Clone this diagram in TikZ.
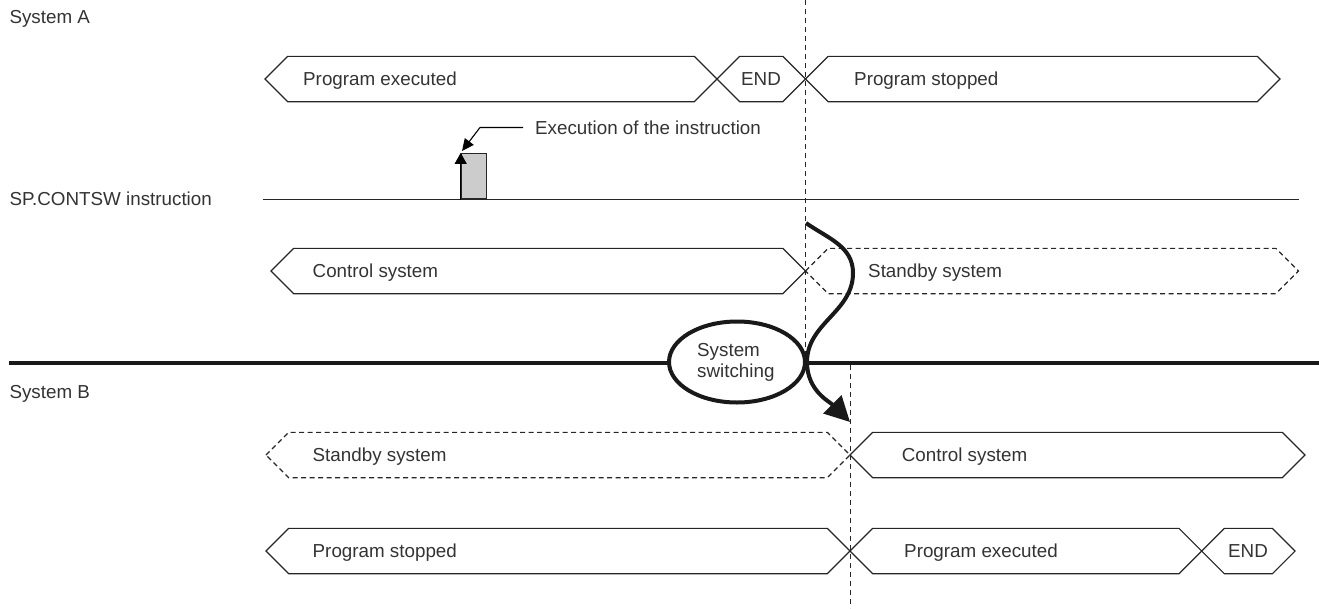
\documentclass[tikz,border=0pt]{standalone}
\usepackage{fontspec}
\setmainfont{Liberation Sans}
\usetikzlibrary{arrows.meta,shapes.geometric}

\begin{document}
\begin{tikzpicture}[x=1pt,y=-1pt,every node/.style={font=\fontsize{18.8}{20.6}\selectfont,text=black!80}]
  \tikzset{
    lbl/.style={anchor=west,inner sep=0pt,text height=13.5pt,text depth=0pt},
    runbox/.style={draw=black!85,line width=1.1pt,line join=miter},
    sbybox/.style={runbox,dash pattern=on 5pt off 3.5pt},
    guide/.style={draw=black!85,line width=0.9pt,dash pattern=on 5pt off 4pt},
    swarrow/.style={draw=black!90,line width=4pt,-{Triangle[length=25pt,width=25pt]}}
  }
  \useasboundingbox (0,0) rectangle (1319,608);

  % state boxes: left tip / right tip / row / style
  \foreach \xa/\xb/\yc/\ls in {265/717/79/runbox,717/805.5/79/runbox,805.5/1280/79/runbox,
      271/805.5/271/runbox,805.5/1298.5/271/sbybox,
      266/850/455/sbybox,850/1305/455/runbox,
      266/850/551/runbox,850/1201.7/551/runbox,1201.7/1295/551/runbox} {
    \draw[\ls] (\xa,\yc) -- (\xa+22.7,\yc-22.7) -- (\xb-22.7,\yc-22.7) -- (\xb,\yc)
      -- (\xb-22.7,\yc+22.7) -- (\xa+22.7,\yc+22.7) -- cycle;
  }

  \node[lbl] (sysa) at (9.3,17) {System A};
  \node[lbl] (spins) at (9.3,198.5) {SP.CONTSW instruction};
  \node[lbl] (sysb) at (9.3,392) {System B};

  \node[lbl] (pexa) at (303,79) {Program executed};
  \node[lbl,anchor=center] (enda) at (761,79) {END};
  \node[lbl] (pstpa) at (854,79) {Program stopped};
  \node[lbl] (ctla) at (312.5,271) {Control system};
  \node[lbl] (sbya) at (868,271) {Standby system};
  \node[lbl] (sbyb) at (312.5,455) {Standby system};
  \node[lbl] (ctlb) at (901.7,455) {Control system};
  \node[lbl] (pstpb) at (312.5,551) {Program stopped};
  \node[lbl] (pexb) at (904,551) {Program executed};
  \node[lbl,anchor=center] (endb) at (1248,551) {END};

  % switching instants
  \draw[guide] (805.5,0) -- (805.5,363);
  \draw[guide] (850,365) -- (850,608);

  % instruction signal
  \draw[draw=black!85,line width=1.1pt] (262.5,199.5) -- (1299,199.5);
  \node[draw=black!85,line width=1.1pt,fill=gray!40,minimum width=25.3pt,minimum height=45.5pt,
    inner sep=0pt,anchor=south west] (pulse) at (460.7,199.5) {};
  \draw[line width=1.1pt,-{Triangle[length=11pt,width=12pt]}] (pulse.south west) -- (pulse.north west);
  \node[lbl] (exec) at (535,127.5) {Execution of the instruction};
  \coordinate (exectip) at (462,151);
  \draw[line width=1.1pt,-{Triangle[length=12pt,width=11pt]}] ([xshift=-12pt]exec.west) -- ++(-43,0) -- (exectip);

  % system boundary
  \draw[draw=black!90,line width=4.5pt] (9,363) -- (1319,363);
  \node[ellipse,draw=black!90,line width=4pt,fill=white,minimum width=136pt,minimum height=81pt,
    inner sep=0pt] (sw) at (737,362) {};
  \node[anchor=base west,inner sep=0pt] (swa) at (697,356.7) {System};
  \node[anchor=base west,inner sep=0pt] (swb) at (697,377.3) {switching};

  \coordinate (swstart) at (806,223);
  \coordinate (swend) at (850,422);
  \draw[swarrow] (swstart) to[out=-35,in=90] (853,273) to[out=-90,in=90] (sw.east)
    to[out=-90,in=135] (swend);
\end{tikzpicture}
\end{document}
